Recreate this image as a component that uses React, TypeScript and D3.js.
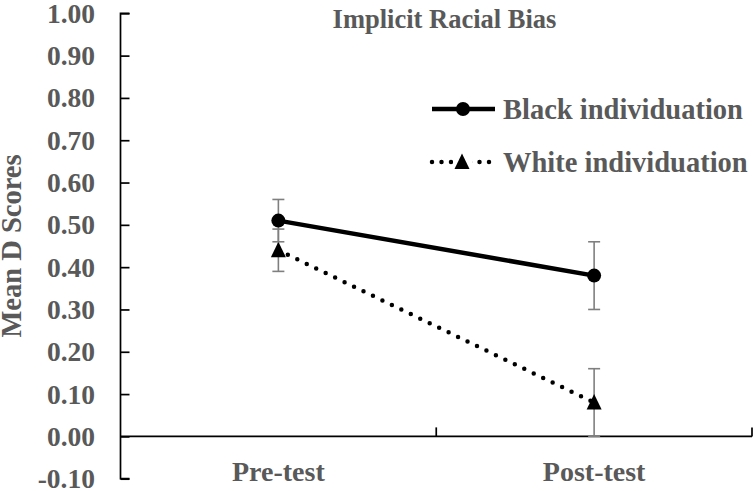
import React, { useEffect, useRef } from "react";
import * as d3 from "d3";

const phases = ["Pre-test", "Post-test"];
const blackMeans = [0.51, 0.38];
const blackErr = [0.05, 0.08];
const whiteMeans = [0.44, 0.08];
const whiteErr = [0.05, 0.08];
const yTicks = [-0.1, 0, 0.1, 0.2, 0.3, 0.4, 0.5, 0.6, 0.7, 0.8, 0.9, 1.0];
const legendText = ["Black individuation", "White individuation"];

const W = 755;
const H = 491;
const FONT = "'Liberation Serif', 'Times New Roman', serif";
const GREY = "#595959";

export default function App() {
  const ref = useRef<SVGSVGElement>(null);

  useEffect(() => {
    const svg = d3.select(ref.current);
    svg.selectAll("*").remove();

    const left = 120.5, right = 752, top = 13.3, bottom = 478.7;

    const x = d3.scaleBand().domain(phases).range([left, right]);
    const y = d3.scaleLinear().domain([-0.1, 1.0]).range([bottom, top]);

    // y axis, ticks pointing inward
    const yAxis = svg.append("g").attr("transform", `translate(${left},0)`)
      .call(d3.axisRight(y).tickValues(yTicks).tickSize(9).tickFormat(() => ""));
    yAxis.selectAll("line, path").attr("stroke", "#000").attr("stroke-width", 1.7);
    yAxis.select(".domain").attr("d", `M9,${top}H0V${bottom}H9`);

    svg.selectAll(".ylab")
      .data(yTicks)
      .join("text")
      .attr("x", 95)
      .attr("y", (d) => y(d) + 9.5)
      .attr("text-anchor", "end")
      .attr("font-family", FONT)
      .attr("font-weight", "bold")
      .attr("font-size", 27.5)
      .attr("fill", GREY)
      .text((d) => d.toFixed(2));

    // zero line with category separators
    const y0 = y(0);
    svg.append("line")
      .attr("x1", left).attr("x2", right)
      .attr("y1", y0).attr("y2", y0)
      .attr("stroke", "#000").attr("stroke-width", 1.7);
    const seps = [x(phases[1])!, right];
    svg.selectAll(".sep")
      .data(seps)
      .join("line")
      .attr("x1", (d) => d).attr("x2", (d) => d)
      .attr("y1", y0).attr("y2", y0 - 9)
      .attr("stroke", "#000").attr("stroke-width", 1.7);

    svg.selectAll(".xlab")
      .data(phases)
      .join("text")
      .attr("x", (d) => x(d)! + x.bandwidth() / 2)
      .attr("y", 481)
      .attr("text-anchor", "middle")
      .attr("font-family", FONT)
      .attr("font-weight", "bold")
      .attr("font-size", 28)
      .attr("fill", GREY)
      .text((d) => d);

    svg.append("text")
      .attr("transform", `translate(21,246) rotate(-90)`)
      .attr("text-anchor", "middle")
      .attr("font-family", FONT)
      .attr("font-weight", "bold")
      .attr("font-size", 28.5)
      .attr("fill", GREY)
      .text("Mean D Scores");

    svg.append("text")
      .attr("x", 444.5).attr("y", 28)
      .attr("text-anchor", "middle")
      .attr("font-family", FONT)
      .attr("font-weight", "bold")
      .attr("font-size", 26.5)
      .attr("fill", GREY)
      .text("Implicit Racial Bias");

    const cx = (d: string) => x(d)! + x.bandwidth() / 2;
    const tri = (px: number, py: number) =>
      `M${px},${py - 8.5}L${px + 7.5},${py + 7}L${px - 7.5},${py + 7}Z`;

    const series = [
      { means: whiteMeans, err: whiteErr, dash: "0 10.5", width: 4.5, marker: "tri" },
      { means: blackMeans, err: blackErr, dash: null, width: 4.5, marker: "circle" },
    ];

    series.forEach((s) => {
      const pts = phases.map((p, i) => ({ p, v: s.means[i], e: s.err[i] }));
      // error bars
      const eb = svg.append("g").attr("stroke", "#7f7f7f").attr("stroke-width", 1.6);
      pts.forEach((d) => {
        const xx = cx(d.p);
        eb.append("line").attr("x1", xx).attr("x2", xx)
          .attr("y1", y(d.v - d.e)).attr("y2", y(d.v + d.e));
        [d.v - d.e, d.v + d.e].forEach((v) => {
          eb.append("line").attr("x1", xx - 6).attr("x2", xx + 6)
            .attr("y1", y(v)).attr("y2", y(v));
        });
      });
      const line = d3.line<{ p: string; v: number }>().x((d) => cx(d.p)).y((d) => y(d.v));
      const path = svg.append("path")
        .datum(pts)
        .attr("d", line)
        .attr("fill", "none")
        .attr("stroke", "#000")
        .attr("stroke-width", s.width)
        .attr("stroke-linecap", "round");
      if (s.dash) path.attr("stroke-dasharray", s.dash).attr("stroke-dashoffset", -10.5);
      if (s.marker === "circle") {
        svg.selectAll(null).data(pts).join("circle")
          .attr("cx", (d) => cx(d.p)).attr("cy", (d) => y(d.v))
          .attr("r", 7).attr("fill", "#000");
      } else {
        svg.selectAll(null).data(pts).join("path")
          .attr("d", (d) => tri(cx(d.p), y(d.v)))
          .attr("fill", "#000");
      }
    });

    // legend
    const lg = svg.append("g");
    lg.append("line").attr("x1", 432).attr("x2", 495).attr("y1", 109).attr("y2", 109)
      .attr("stroke", "#000").attr("stroke-width", 4.5);
    lg.append("circle").attr("cx", 463).attr("cy", 109).attr("r", 7).attr("fill", "#000");
    lg.append("line").attr("x1", 432).attr("x2", 492).attr("y1", 162).attr("y2", 162)
      .attr("stroke", "#000").attr("stroke-width", 4.5)
      .attr("stroke-linecap", "round").attr("stroke-dasharray", "0 9.5");
    lg.append("rect").attr("x", 453).attr("y", 152).attr("width", 19).attr("height", 20).attr("fill", "#fff");
    lg.append("path").attr("d", tri(462, 162)).attr("fill", "#000");
    lg.selectAll("text").data(legendText).join("text")
      .attr("x", 503).attr("y", (d, i) => 118.5 + i * 53)
      .attr("font-family", FONT)
      .attr("font-weight", "bold")
      .attr("font-size", 28.5)
      .attr("fill", GREY)
      .text((d) => d);
  }, []);

  return <svg ref={ref} width={W} height={H} style={{ position: "absolute", left: 0, top: 0 }} />;
}
